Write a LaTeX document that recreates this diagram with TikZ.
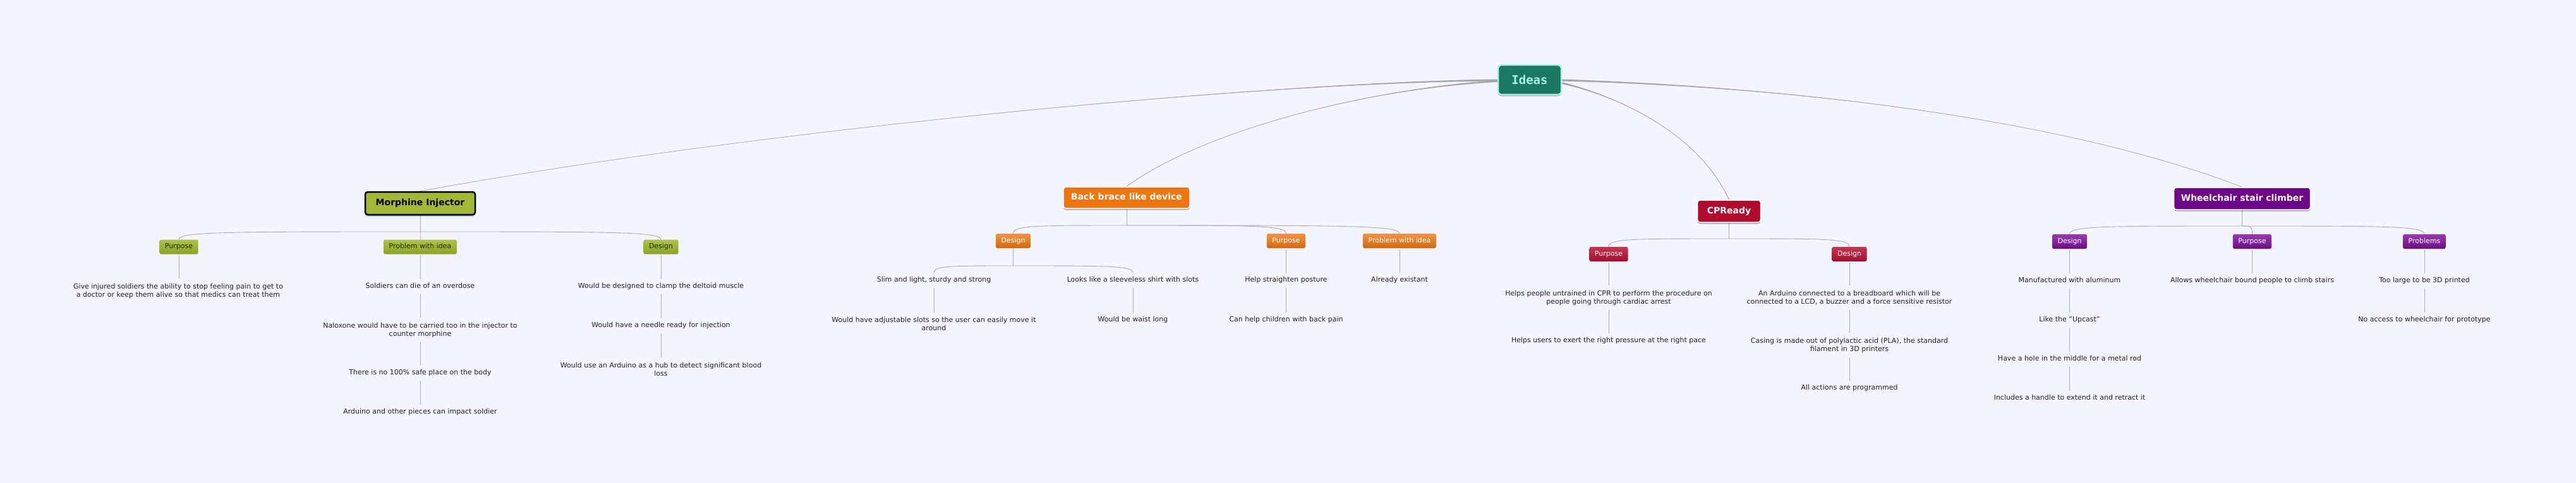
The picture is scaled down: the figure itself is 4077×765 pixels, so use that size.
\documentclass[tikz,border=0pt]{standalone}
\usepackage{fontspec}
\setmainfont{DejaVu Sans}
\newfontfamily\ideasfont{DejaVu Sans Mono}
\usetikzlibrary{calc,shadows}
\definecolor{bgc}{HTML}{F2F5FE}
\definecolor{linec}{HTML}{A6A6A6}
\definecolor{brc}{HTML}{ABABAB}
\definecolor{leafc}{HTML}{222222}
\definecolor{ideasfill}{HTML}{1B7862}
\definecolor{ideasedge}{HTML}{A8F2E2}
\definecolor{morphc}{HTML}{A3B833}
\definecolor{mtop}{HTML}{AEC446}
\definecolor{mbot}{HTML}{8CA226}
\definecolor{mtext}{HTML}{1F2B00}
\definecolor{backc}{HTML}{EF760E}
\definecolor{btop}{HTML}{F29445}
\definecolor{bbot}{HTML}{D4670F}
\definecolor{cprc}{HTML}{B30B2C}
\definecolor{ctop}{HTML}{C9344F}
\definecolor{cbot}{HTML}{A20E2D}
\definecolor{wheelc}{HTML}{6E0888}
\definecolor{wtop}{HTML}{9A3AB0}
\definecolor{wbot}{HTML}{6A0C86}
\pgfdeclarelayer{bg}
\pgfsetlayers{bg,main}
\newcommand\brcurve[2]{\draw[brline] (#1) .. controls ($(#1)!0.8!(#1 -| #2.north)$) and (#1 -| #2.north) .. (#2.north);}
\newcommand\boxleaf[2]{\draw[brline, shorten <=2pt] (#1.south) -- (#1.south |- #2.north);}
\newcommand\leafleaf[2]{\draw[brline] (#1.south) -- (#1.south |- #2.north);}
\newcommand\mainlink[4]{%
  \fill[linec] ($(#1)+(0,-1.5)$) .. controls (#2) and (#3) .. ($(#4)+(0.5,0)$) -- ($(#4)+(-0.5,0)$) .. controls (#3) and (#2) .. ($(#1)+(0,1.5)$) -- cycle;
  \draw[linec, line width=0.7pt] (#1) .. controls (#2) and (#3) .. (#4);}
\begin{document}
\begin{tikzpicture}[x=1pt,y=-1pt,
  brline/.style={draw=brc, line width=0.9pt},
  ideasbox/.style={draw=ideasedge, line width=2.5pt, fill=ideasfill, rounded corners=5pt,
    minimum width=100pt, minimum height=47pt, inner sep=0pt, text=ideasedge,
    font=\ideasfont\bfseries\fontsize{19}{22}\selectfont,
    drop shadow={shadow xshift=0pt, shadow yshift=-2.5pt, opacity=0.3, fill=black}},
  mainbox/.style={draw=white, line width=1.5pt, rounded corners=4pt, minimum height=35pt,
    inner sep=0pt, text=white, text height=10pt, text depth=3pt,
    font=\bfseries\fontsize{14}{16}\selectfont,
    drop shadow={shadow xshift=0pt, shadow yshift=-2.5pt, opacity=0.3, fill=black}},
  cat/.style={rounded corners=2.5pt, minimum height=23pt, inner xsep=8.5pt, inner ysep=0pt,
    text height=8pt, text depth=2.5pt, font=\fontsize{11}{13}\selectfont},
  mcat/.style={cat, top color=mtop, bottom color=mbot, text=mtext},
  bcat/.style={cat, top color=btop, bottom color=bbot, text=white},
  ccat/.style={cat, top color=ctop, bottom color=cbot, text=white},
  wcat/.style={cat, top color=wtop, bottom color=wbot, text=white},
  leaf/.style={align=center, inner xsep=2pt, inner ysep=6.5pt, text=leafc,
    text height=8pt, text depth=3pt, font=\fontsize{11}{13}\selectfont},
  leafb/.style={align=center, inner xsep=2pt, inner ysep=7.5pt, text=leafc,
    font=\fontsize{11}{13}\selectfont}
]
\useasboundingbox (0,0) rectangle (4077,765);
\begin{pgfonlayer}{bg}
\fill[bgc] (0,0) rectangle (4077,765);
\end{pgfonlayer}

% main nodes
\node[ideasbox] (ideas) at (2421,126.5) {Ideas};
\node[mainbox, fill=morphc, draw=black, line width=2.5pt, text=black, minimum width=174pt, minimum height=36pt] (morph) at (665,322) {Morphine Injector};
\node[mainbox, fill=backc, minimum width=200pt, minimum height=34pt] (back) at (1783,313) {Back brace like device};
\node[mainbox, fill=cprc, minimum width=100pt] (cpr) at (2736.5,334.5) {CPReady};
\node[mainbox, fill=wheelc, minimum width=216pt] (wheel) at (3548.5,314.5) {Wheelchair stair climber};

% categories
\node[mcat] (mp) at (283,391) {Purpose};
\node[mcat] (mpr) at (665,391) {Problem with idea};
\node[mcat] (md) at (1046,391) {Design};
\node[bcat] (bd) at (1603.5,381.5) {Design};
\node[bcat] (bp) at (2035.5,381.5) {Purpose};
\node[bcat] (bpr) at (2215,381.5) {Problem with idea};
\node[ccat] (cp) at (2546,402.5) {Purpose};
\node[ccat] (cd) at (2927,402.5) {Design};
\node[wcat] (wd) at (3275.5,382.5) {Design};
\node[wcat] (wp) at (3564.5,382.5) {Purpose};
\node[wcat] (wpb) at (3837,382.5) {Problems};

% Morphine leaves
\node[leafb] (mp1) at (282,460.5) {Give injured soldiers the ability to stop feeling pain to get to\\a doctor or keep them alive so that medics can treat them};
\node[leaf] (mr1) at (665,454) {Soldiers can die of an overdose};
\node[leafb] (mr2) at (665,522.5) {Naloxone would have to be carried too in the injector to\\counter morphine};
\node[leaf] (mr3) at (665,591) {There is no 100\% safe place on the body};
\node[leaf] (mr4) at (665,653) {Arduino and other pieces can impact soldier};
\node[leaf] (md1) at (1046,454) {Would be designed to clamp the deltoid muscle};
\node[leaf] (md2) at (1046,516) {Would have a needle ready for injection};
\node[leafb] (md3) at (1046,584.5) {Would use an Arduino as a hub to detect significant blood\\loss};

% Back brace leaves
\node[leaf] (bd1) at (1478,444) {Slim and light, sturdy and strong};
\node[leafb] (bd2) at (1478,513) {Would have adjustable slots so the user can easily move it\\around};
\node[leaf] (bd3) at (1793,444) {Looks like a sleeveless shirt with slots};
\node[leaf] (bd4) at (1793,507) {Would be waist long};
\node[leaf] (bp1) at (2035.5,444) {Help straighten posture};
\node[leaf] (bp2) at (2035.5,507) {Can help children with back pain};
\node[leaf] (bq1) at (2215,444) {Already existant};

% CPReady leaves
\node[leafb] (cp1) at (2546,471.5) {Helps people untrained in CPR to perform the procedure on\\people going through cardiac arrest};
\node[leaf] (cp2) at (2546,540) {Helps users to exert the right pressure at the right pace};
\node[leafb] (cd1) at (2927,471.5) {An Arduino connected to a breadboard which will be\\connected to a LCD, a buzzer and a force sensitive resistor};
\node[leafb] (cd2) at (2927,546.5) {Casing is made out of polylactic acid (PLA), the standard\\filament in 3D printers};
\node[leaf] (cd3) at (2927,615) {All actions are programmed};

% Wheelchair leaves
\node[leaf] (wd1) at (3275.5,445) {Manufactured with aluminum};
\node[leaf] (wd2) at (3275.5,507) {Like the "Upcast"};
\node[leaf] (wd3) at (3275.5,569) {Have a hole in the middle for a metal rod};
\node[leaf] (wd4) at (3275.5,631) {Includes a handle to extend it and retract it};
\node[leaf] (wp1) at (3564.5,445) {Allows wheelchair bound people to climb stairs};
\node[leaf] (wb1) at (3837,445) {Too large to be 3D printed};
\node[leaf] (wb2) at (3837,507) {No access to wheelchair for prototype};

% stem points
\coordinate (morphS) at (665,367);
\coordinate (backS) at (1783,357);
\coordinate (cprS) at (2736.5,378);
\coordinate (wheelS) at (3548.5,358);
\coordinate (bdS) at (1603.5,421);
\coordinate (ideasA) at ($(ideas.west)+(0,0.5)$);
\coordinate (ideasB) at ($(ideas.west)+(0,2)$);
\coordinate (ideasC) at ($(ideas.east)+(0,5)$);
\coordinate (ideasD) at ($(ideas.east)+(0,0.5)$);

\begin{pgfonlayer}{bg}
% main links
\mainlink{ideasA}{2000,130}{1200,205}{morph.north}
\mainlink{ideasB}{2150,142}{1900,210}{back.north}
\mainlink{ideasC}{2570,155}{2690,215}{cpr.north}
\mainlink{ideasD}{2900,140}{3300,200}{wheel.north}

% stems
\draw[brline] (morph.south) -- (morphS);
\draw[brline] (back.south) -- (backS);
\draw[brline] (cpr.south) -- (cprS);
\draw[brline] (wheel.south) -- (wheelS);
\draw[brline] (bd.south) -- (bdS);

% branch curves
\brcurve{morphS}{mp}
\brcurve{morphS}{mpr}
\brcurve{morphS}{md}
\brcurve{backS}{bd}
\brcurve{backS}{bp}
\brcurve{backS}{bpr}
\brcurve{cprS}{cp}
\brcurve{cprS}{cd}
\brcurve{wheelS}{wd}
\brcurve{wheelS}{wp}
\brcurve{wheelS}{wpb}
\brcurve{bdS}{bd1}
\brcurve{bdS}{bd3}

% vertical leaf links
\boxleaf{mp}{mp1}
\boxleaf{mpr}{mr1}
\leafleaf{mr1}{mr2}
\leafleaf{mr2}{mr3}
\leafleaf{mr3}{mr4}
\boxleaf{md}{md1}
\leafleaf{md1}{md2}
\leafleaf{md2}{md3}
\leafleaf{bd1}{bd2}
\leafleaf{bd3}{bd4}
\boxleaf{bp}{bp1}
\leafleaf{bp1}{bp2}
\boxleaf{bpr}{bq1}
\boxleaf{cp}{cp1}
\leafleaf{cp1}{cp2}
\boxleaf{cd}{cd1}
\leafleaf{cd1}{cd2}
\leafleaf{cd2}{cd3}
\boxleaf{wd}{wd1}
\leafleaf{wd1}{wd2}
\leafleaf{wd2}{wd3}
\leafleaf{wd3}{wd4}
\boxleaf{wp}{wp1}
\boxleaf{wpb}{wb1}
\leafleaf{wb1}{wb2}
\end{pgfonlayer}
\end{tikzpicture}
\end{document}
